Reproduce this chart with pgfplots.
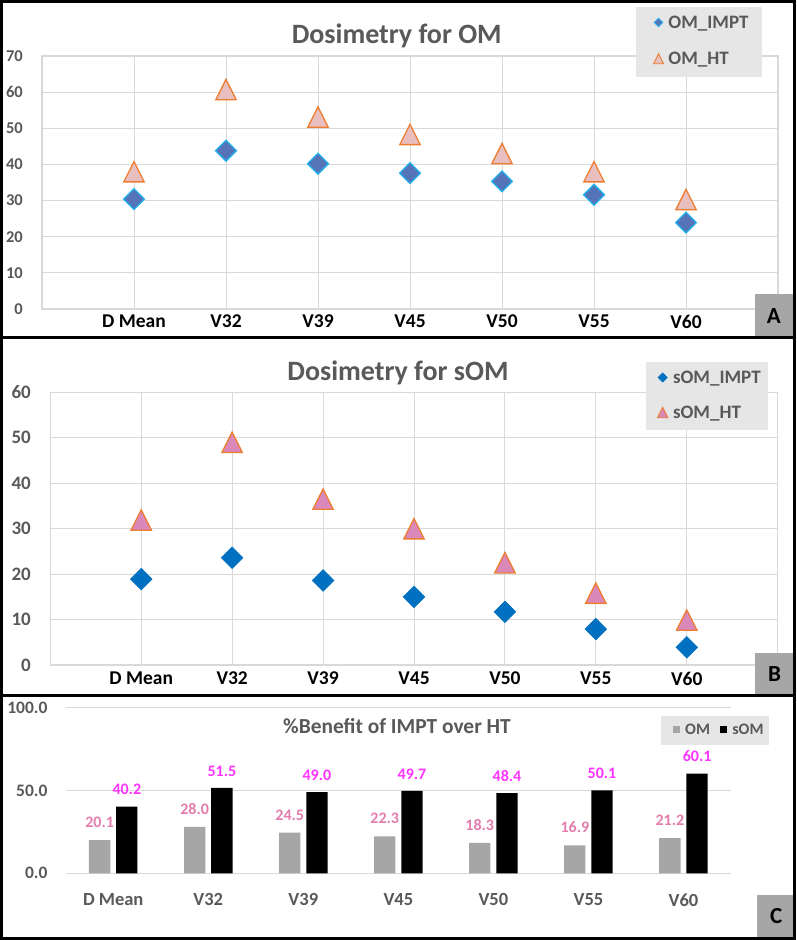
\documentclass[border=0pt]{standalone}
\usepackage{fontspec}
\setmainfont{Carlito}
\usepackage{pgfplots}
\pgfplotsset{compat=1.18}
\definecolor{textgray}{HTML}{595959}
\definecolor{gridgray}{HTML}{D9D9D9}
\definecolor{leggray}{HTML}{E7E6E6}
\definecolor{boxgray}{HTML}{A6A6A6}
\definecolor{omimptfill}{HTML}{5574B8}
\definecolor{omimptedge}{HTML}{20B0F0}
\definecolor{omhtfill}{HTML}{E8BEBE}
\definecolor{xlorange}{HTML}{ED7D31}
\definecolor{somimpt}{HTML}{0070C0}
\definecolor{somhtfill}{HTML}{DA88BA}
\definecolor{barom}{HTML}{A6A6A6}
\definecolor{lblom}{HTML}{E47DAE}
\definecolor{lblsom}{HTML}{FF33FF}

\pgfdeclareplotmark{xldiamond}{%
  \pgfpathmoveto{\pgfqpoint{0pt}{\pgfplotmarksize}}%
  \pgfpathlineto{\pgfqpoint{\pgfplotmarksize}{0pt}}%
  \pgfpathlineto{\pgfqpoint{0pt}{-\pgfplotmarksize}}%
  \pgfpathlineto{\pgfqpoint{-\pgfplotmarksize}{0pt}}%
  \pgfpathclose\pgfusepathqfillstroke}
\pgfdeclareplotmark{xltri}{%
  \pgfpathmoveto{\pgfqpoint{0pt}{\pgfplotmarksize}}%
  \pgfpathlineto{\pgfqpoint{\pgfplotmarksize}{-\pgfplotmarksize}}%
  \pgfpathlineto{\pgfqpoint{-\pgfplotmarksize}{-\pgfplotmarksize}}%
  \pgfpathclose\pgfusepathqfillstroke}

\pgfplotsset{
  xlscatter/.style={
    scale only axis, xmin=0, xmax=8, ymin=0,
    xtick={1,...,7}, xticklabels={D Mean,V32,V39,V45,V50,V55,V60},
    xmajorgrids, ymajorgrids,
    x grid style={draw=gridgray, line width=1pt},
    y grid style={draw=gridgray, line width=1.2pt},
    axis line style={draw=gridgray, line width=1.2pt},
    major tick length=0pt, tick style={draw=none},
    xticklabel style={font=\fontsize{19.5}{22}\selectfont\bfseries, text=black, anchor=north, inner sep=0pt},
    title style={font=\fontsize{28}{32}\selectfont\bfseries, text=textgray, anchor=base},
    clip=false,
    legend image code/.code={\draw[#1] plot coordinates {(0pt,0pt)};},
    legend style={draw=none, fill=none, anchor=north west, inner xsep=0pt, inner ysep=0pt,
      font=\fontsize{19}{22}\selectfont\bfseries, text=textgray,
      cells={anchor=west}, nodes={inner sep=0pt, text height=12.3pt, text depth=0pt}},
  },
  omlbl/.style={every node near coord/.style={text=lblom, font=\fontsize{16}{19}\selectfont\bfseries, inner sep=0pt, outer sep=0pt, anchor=south, yshift=12.5pt}},
  somlbl/.style={every node near coord/.style={text=lblsom, font=\fontsize{16}{19}\selectfont\bfseries, inner sep=0pt, outer sep=0pt, anchor=south, yshift=11.8pt}},
}

\begin{document}
\begin{tikzpicture}
\useasboundingbox (0pt,0pt) rectangle (797pt,-940pt);
\fill[white] (0pt,0pt) rectangle (797pt,-940pt);

% ---------------- Panel A ----------------
\begin{axis}[xlscatter,
  at={(42pt,-309pt)}, anchor=south west, width=736pt, height=253pt,
  ymax=70, ytick={0,10,...,70}, yticklabels={0,10,20,30,40,50,60,70},
  xticklabel style={yshift=-6pt},
  yticklabel style={font=\fontsize{16.5}{19}\selectfont\bfseries, text=textgray, anchor=east, inner sep=0pt, xshift=-19pt},
  title={Dosimetry for OM}, title style={at={(axis description cs:0.482,1)}, yshift=7pt},
  legend style={at={(axis description cs:0.8306,1.1579)}, row sep=24pt, column sep=4.9pt},
]
\addplot[only marks, mark=xltri, mark size=10.2pt, mark options={fill=omhtfill, draw=xlorange, line width=1.3pt}, forget plot]
  coordinates {(1,38.0) (2,60.7) (3,53.1) (4,48.3) (5,43.0) (6,38.0) (7,30.3)};
\addplot[only marks, mark=xldiamond, mark size=10.4pt, mark options={fill=omimptfill, draw=omimptedge, line width=1.3pt}, forget plot]
  coordinates {(1,30.4) (2,43.8) (3,40.2) (4,37.6) (5,35.3) (6,31.6) (7,23.9)};
\fill[leggray] (axis description cs:0.8071,1.1949) rectangle (axis description cs:0.9779,0.9182);
\addlegendimage{only marks, mark=xldiamond, mark size=4.3pt, mark options={fill=omimptfill, draw=omimptedge, line width=0.8pt}}
\addlegendentry{OM\_IMPT}
\addlegendimage{only marks, mark=xltri, mark size=5pt, mark options={fill=omhtfill, draw=xlorange, line width=0.9pt}}
\addlegendentry{OM\_HT}
\end{axis}

% ---------------- Panel B ----------------
\begin{axis}[xlscatter,
  at={(50.3pt,-665pt)}, anchor=south west, width=727.4pt, height=272.7pt,
  ymax=60, ytick={0,10,...,60}, yticklabels={0,10,20,30,40,50,60},
  xticklabel style={yshift=-6.7pt},
  yticklabel style={font=\fontsize{19}{22}\selectfont\bfseries, text=textgray, anchor=east, inner sep=0pt, xshift=-19.3pt},
  title={Dosimetry for sOM}, title style={at={(axis description cs:0.478,1)}, yshift=5.6pt},
  legend style={at={(axis description cs:0.8343,1.0776)}, row sep=22.7pt, column sep=5.1pt},
]
\addplot[only marks, mark=xltri, mark size=10.2pt, mark options={fill=somhtfill, draw=xlorange, line width=1.3pt}, forget plot]
  coordinates {(1,31.9) (2,49.0) (3,36.5) (4,30.0) (5,22.5) (6,15.8) (7,9.9)};
\addplot[only marks, mark=xldiamond, mark size=10.8pt, mark options={fill=somimpt, draw=somimpt, line width=0.6pt}, forget plot]
  coordinates {(1,18.9) (2,23.6) (3,18.6) (4,15.0) (5,11.7) (6,7.9) (7,3.9)};
\fill[leggray] (axis description cs:0.8189,1.1122) rectangle (axis description cs:0.9867,0.8618);
\addlegendimage{only marks, mark=xldiamond, mark size=4.6pt, mark options={fill=somimpt, draw=somimpt, line width=0.5pt}}
\addlegendentry{sOM\_IMPT}
\addlegendimage{only marks, mark=xltri, mark size=5.3pt, mark options={fill=somhtfill, draw=xlorange, line width=0.9pt}}
\addlegendentry{sOM\_HT}
\end{axis}

% ---------------- Panel C ----------------
\begin{axis}[
  at={(65.7pt,-873.3pt)}, anchor=south west, scale only axis, width=665.3pt, height=165.7pt,
  xmin=-0.5, xmax=6.5, ymin=0, ymax=100,
  xtick={0,...,6}, xticklabels={D Mean,V32,V39,V45,V50,V55,V60},
  ytick={0,50,100}, yticklabels={0.0,50.0,100.0},
  ymajorgrids, y grid style={draw=gridgray, line width=1.2pt},
  axis line style={draw=none}, major tick length=0pt, tick style={draw=none},
  xticklabel style={font=\fontsize{18.5}{22}\selectfont\bfseries, text=textgray, anchor=north, inner sep=0pt, yshift=-20pt},
  yticklabel style={font=\fontsize{17.5}{20}\selectfont\bfseries, text=textgray, anchor=east, inner sep=0pt, xshift=-18pt},
  title={\%Benefit of IMPT over HT},
  title style={at={(axis description cs:0.498,1)}, anchor=base, yshift=-32.3pt, font=\fontsize{21.4}{25}\selectfont\bfseries, text=textgray},
  clip=false,
  legend columns=2,
  legend image code/.code={\fill[#1,draw=none] (-3.35pt,-3.35pt) rectangle (3.35pt,3.35pt);},
  legend style={draw=none, fill=none, anchor=north west, inner xsep=0pt, inner ysep=0pt,
    at={(axis description cs:0.9123,0.9019)},
    font=\fontsize{16}{19}\selectfont\bfseries, text=textgray, column sep=5.65pt,
    /tikz/every even column/.append style={column sep=10pt},
    cells={anchor=west}, nodes={inner sep=0pt, text height=10.3pt, text depth=0pt}},
]
\addplot[ybar, bar width=21.3pt, bar shift=-13.6pt, fill=barom, draw=none, forget plot]
  coordinates {(0,20.1) (1,28.0) (2,24.5) (3,22.3) (4,18.3) (5,16.9) (6,21.2)};
\addplot[ybar, bar width=21.3pt, bar shift=13.6pt, fill=black, draw=none, forget plot]
  coordinates {(0,40.2) (1,51.5) (2,49.0) (3,49.7) (4,48.4) (5,50.1) (6,60.1)};
% value labels
\addplot[omlbl, only marks, mark=none, forget plot, nodes near coords, point meta=explicit symbolic]
  coordinates {(-0.1431,20.1) [20.1] (0.8569,28.0) [28.0] (1.8569,24.5) [24.5] (2.8569,22.3) [22.3] (3.8569,18.3) [18.3] (4.8569,16.9) [16.9] (5.8569,21.2) [21.2]};
\addplot[somlbl, only marks, mark=none, forget plot, nodes near coords, point meta=explicit symbolic]
  coordinates {(0.1431,40.2) [40.2] (1.1431,51.5) [51.5] (2.1431,49.0) [49.0] (3.1431,49.7) [49.7] (4.1431,48.4) [48.4] (5.1431,50.1) [50.1] (6.1431,60.1) [60.1]};
\fill[leggray] (axis description cs:0.8943,0.9493) rectangle (axis description cs:1.0571,0.7761);
\addlegendimage{fill=barom}
\addlegendentry{OM}
\addlegendimage{fill=black}
\addlegendentry{sOM}
\end{axis}

% ---------------- frames and panel letters ----------------
\fill[boxgray] (755pt,-294.3pt) rectangle (792.8pt,-337.5pt);
\fill[boxgray] (755pt,-652.7pt) rectangle (794pt,-695pt);
\fill[boxgray] (757.3pt,-895pt) rectangle (795pt,-937.5pt);
\draw[black, line width=2.6pt] (1.3pt,-1.3pt) rectangle (794.2pt,-938.6pt);
\draw[black, line width=3pt] (0pt,-337.5pt) -- (795pt,-337.5pt);
\draw[black, line width=3pt] (0pt,-695.5pt) -- (795pt,-695.5pt);
\node[font=\fontsize{23}{26}\selectfont\bfseries] at (773.9pt,-316pt) {A};
\node[font=\fontsize{23}{26}\selectfont\bfseries] at (774.5pt,-673.8pt) {B};
\node[font=\fontsize{23}{26}\selectfont\bfseries] at (776.2pt,-916.3pt) {C};
\end{tikzpicture}
\end{document}
